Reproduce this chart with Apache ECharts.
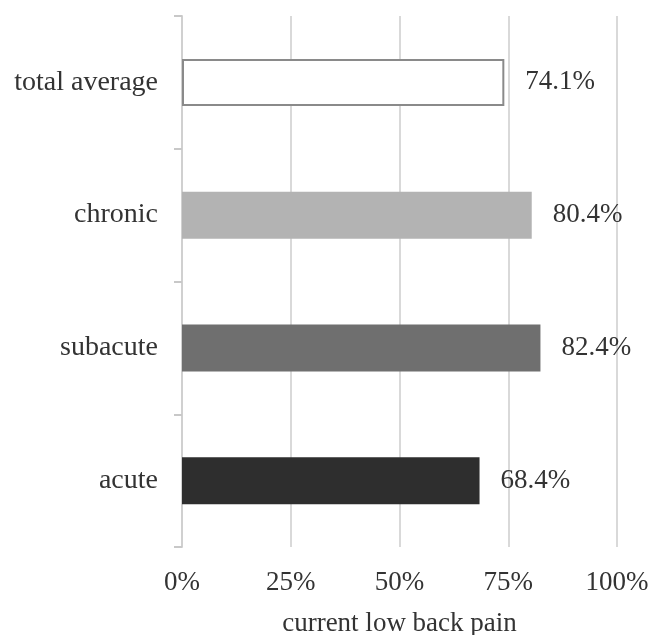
<!DOCTYPE html>
<html>
<head>
<meta charset="utf-8">
<script src="https://cdn.jsdelivr.net/npm/echarts@6/dist/echarts.min.js"></script>
<style>
  html, body { margin: 0; padding: 0; background: #fff; }
  #chart { width: 654px; height: 635px; }
</style>
</head>
<body>
<div id="chart"></div>
<script>
// categories bottom -> top
const categories = ['acute', 'subacute', 'chronic', 'total average']
const values = [68.4, 82.4, 80.4, 74.1]
const barColors = ['#2e2e2e', '#6f6f6f', '#b3b3b3', '#ffffff']
const xTicks = [0, 25, 50, 75, 100]

const chart = echarts.init(document.getElementById('chart'))
const font = 'Liberation Serif, Times New Roman, serif'

chart.setOption({
  animation: false,
  grid: { left: 182, right: 37, top: 16, bottom: 88, outerBoundsMode: 'none' },
  xAxis: {
    type: 'value',
    min: xTicks[0],
    max: xTicks[xTicks.length - 1],
    interval: 25,
    name: 'current low back pain',
    nameLocation: 'middle',
    nameGap: 63,
    nameTextStyle: { fontFamily: font, fontSize: 27, color: '#333' },
    axisLine: { show: false },
    axisTick: { show: false },
    axisLabel: {
      formatter: v => v + '%',
      fontFamily: font, fontSize: 27, color: '#333', margin: 22
    },
    splitLine: { lineStyle: { color: '#d9d9d9', width: 2 } }
  },
  yAxis: {
    type: 'category',
    data: categories,
    axisLine: { show: true, lineStyle: { color: '#d0d0d0', width: 2 } },
    axisTick: { show: true, length: 8, lineStyle: { color: '#c8c8c8', width: 2 } },
    axisLabel: { fontFamily: font, fontSize: 28, color: '#333', margin: 24 }
  },
  series: [{
    type: 'bar',
    barWidth: 47,
    data: values.map((v, i) => ({
      value: v,
      itemStyle: {
        color: barColors[i],
        borderColor: i === 3 ? '#8a8a8a' : barColors[i],
        borderWidth: i === 3 ? 2 : 0
      }
    })),
    label: {
      show: true,
      position: 'right',
      distance: 21,
      formatter: p => p.value.toFixed(1) + '%',
      fontFamily: font, fontSize: 27, color: '#333'
    }
  }]
})
</script>
</body>
</html>
